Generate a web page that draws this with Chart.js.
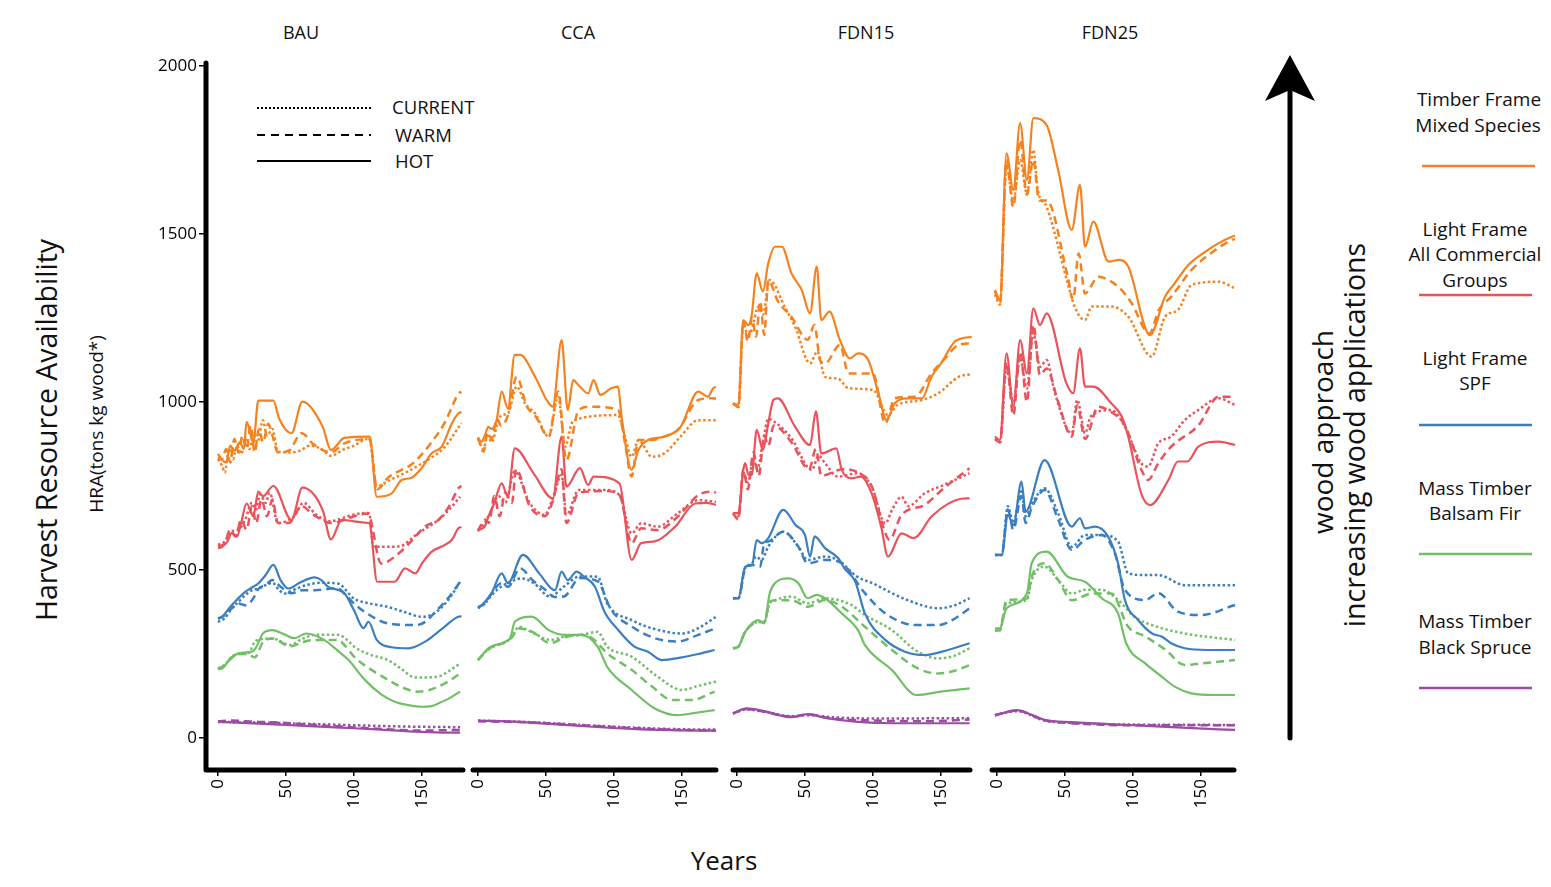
<!DOCTYPE html>
<html><head><meta charset="utf-8">
<script src="https://cdn.jsdelivr.net/npm/chart.js@4.4.1/dist/chart.umd.min.js"></script>
<style>
body{margin:0;width:1551px;height:887px;position:relative;background:#fff;overflow:hidden;font-family:'Open Sans',sans-serif;color:#111}
canvas{position:absolute;left:0;top:0}
.t{position:absolute;white-space:nowrap;line-height:1;transform:translate(-50%,-50%)}
.l{position:absolute;white-space:nowrap;line-height:1;transform:translate(0,-50%)}
.v{position:absolute;white-space:nowrap;line-height:1;transform:translate(-50%,-50%) rotate(-90deg)}
</style></head>
<body>
<svg width="1551" height="887" style="position:absolute;left:0;top:0">
  <line x1="257" y1="108" x2="371" y2="108" stroke="#000" stroke-width="2.2" stroke-dasharray="2,2"/>
  <line x1="257" y1="135" x2="371" y2="135" stroke="#000" stroke-width="2.2" stroke-dasharray="8,6"/>
  <line x1="257" y1="161" x2="371" y2="161" stroke="#000" stroke-width="2.2"/>
  <line x1="1290" y1="738" x2="1290" y2="92" stroke="#000" stroke-width="5" stroke-linecap="round"/>
  <path d="M1290,55 L1315,101 L1290,90 L1265,101 Z" fill="#000"/>
  <line x1="1422" y1="166" x2="1535" y2="166" stroke="#F5821F" stroke-width="2.5"/>
  <line x1="1419" y1="295" x2="1532" y2="295" stroke="#E9535B" stroke-width="2.5"/>
  <line x1="1419" y1="425" x2="1532" y2="425" stroke="#3B7FC0" stroke-width="2.5"/>
  <line x1="1419" y1="554" x2="1532" y2="554" stroke="#72BF68" stroke-width="2.5"/>
  <line x1="1419" y1="688" x2="1532" y2="688" stroke="#9A4DA3" stroke-width="2.5"/>
</svg>
<div class="t" style="left:301px;top:32px;font-size:18px">BAU</div>
<div class="t" style="left:578px;top:32px;font-size:18px">CCA</div>
<div class="t" style="left:866px;top:32px;font-size:18px">FDN15</div>
<div class="t" style="left:1110px;top:32px;font-size:18px">FDN25</div>
<div class="l" style="left:392px;top:107px;font-size:18.5px">CURRENT</div>
<div class="l" style="left:395px;top:135px;font-size:18.5px">WARM</div>
<div class="l" style="left:395px;top:161px;font-size:18.5px">HOT</div>
<div class="v" style="left:46px;top:430px;font-size:28.5px">Harvest Resource Availability</div>
<div class="v" style="left:96px;top:424px;font-size:19px">HRA(tons kg wood*)</div>
<div class="t" style="left:724px;top:860px;font-size:26px">Years</div>
<div class="v" style="left:1322px;top:432px;font-size:28px">wood approach</div>
<div class="v" style="left:1354px;top:435px;font-size:28.5px">increasing wood applications</div>
<div class="t" style="left:1479px;top:99px;font-size:19px">Timber Frame</div>
<div class="t" style="left:1478px;top:125px;font-size:19px">Mixed Species</div>
<div class="t" style="left:1475px;top:229px;font-size:19px">Light Frame</div>
<div class="t" style="left:1475px;top:254px;font-size:19px">All Commercial</div>
<div class="t" style="left:1475px;top:280px;font-size:19px">Groups</div>
<div class="t" style="left:1475px;top:358px;font-size:19px">Light Frame</div>
<div class="t" style="left:1475px;top:383px;font-size:19px">SPF</div>
<div class="t" style="left:1475px;top:488px;font-size:19px">Mass Timber</div>
<div class="t" style="left:1475px;top:513px;font-size:19px">Balsam Fir</div>
<div class="t" style="left:1475px;top:621px;font-size:19px">Mass Timber</div>
<div class="t" style="left:1475px;top:647px;font-size:19px">Black Spruce</div>
<canvas id="c1" width="1551" height="887"></canvas>
<canvas id="c2" width="1551" height="887"></canvas>
<canvas id="c3" width="1551" height="887"></canvas>
<canvas id="c4" width="1551" height="887"></canvas>
<script>
// ---- tick labels ----
const xTicks = [0, 50, 100, 150];
const yTicks = [0, 500, 1000, 1500, 2000];
const panelNames = ['BAU', 'CCA', 'FDN15', 'FDN25'];
const speciesNames = ['Timber Frame Mixed Species', 'Light Frame All Commercial Groups', 'Light Frame SPF', 'Mass Timber Balsam Fir', 'Mass Timber Black Spruce'];
const scenarioNames = ['CURRENT', 'WARM', 'HOT'];

// ---- BAU: [year, HRA] ----
const bau_tf_cur = [[0,830],[3,810],[5,790],[8,860],[11,830],[14,870],[17,845],[20,890],[23,860],[26,900],[29,880],[33,946],[36,900],[40,920],[44,852],[54,850],[60,855],[68,870],[76,860],[83,840],[92,858],[100,870],[110,890],[111.5,888],[116.7,748],[125,765],[137,788],[147,810],[157,835],[166,863],[179,937]];
const bau_tf_warm = [[0,845],[3,830],[6,860],[9,820],[12,890],[15,850],[18,900],[21,860],[24,930],[27,850],[30,920],[33,880],[37,935],[40,900],[44,850],[52,855],[61.5,907],[70,875],[83,850],[93,877],[111,890],[112,885],[117,740],[125,775],[135,798],[142,813],[150,845],[157,880],[166.5,937],[172,985],[176.7,1025],[179,1030]];
const bau_tf_hot = [[0,835],[3,827],[6,820],[9,870],[12,855],[16,880],[19,860],[21,941],[26,878],[29.6,1004],[40.7,1004],[45,950],[54,907],[62,1001],[77,926],[83,857],[93,893],[110.5,897],[111.5,897],[116.7,718],[127.7,728],[135,768],[142,774],[150,805],[157,847],[164.5,867],[172,937],[176.7,966],[179,970]];
const bau_lf_cur = [[0,575],[5,585],[10,615],[15,620],[20,650],[25,700],[28,680],[31,725],[35,700],[38,730],[44,640],[50,645],[56,660],[63,700],[72,665],[83,645],[92,655],[100,665],[110,670],[111.5,665],[114,569],[133,570],[147,609],[162,649],[170,680],[178,718]];
const bau_lf_warm = [[0,570],[5,580],[9,620],[13,600],[17,650],[21,620],[25,690],[28,640],[32,710],[36,660],[40,710],[44,640],[52,640],[61.5,690],[70,665],[83,640],[92,648],[100,660],[110,668],[111.5,660],[120,519],[133,550],[142,585],[152,629],[162,649],[170,690],[176.7,743],[179,750]];
const bau_lf_hot = [[0,565],[3,569],[7,585],[10,610],[14,600],[17,640],[21,698],[26,660],[29.6,733],[33,720],[40.7,750],[54,649],[62,745],[77,678],[83,591],[91,649],[100,645],[110.5,640],[111.5,638],[117,465],[130,465],[137.5,505],[145,490],[150,520],[157,554],[166.5,574],[172,590],[176.7,624],[179,628]];
const bau_spf_cur = [[0,345],[5,357],[10,385],[15,405],[20,425],[25,440],[30,445],[35,455],[40,462],[45,440],[49,430],[55,440],[65,455],[76,462],[88,460],[100,415],[112,400],[125,390],[137,375],[150,361],[156,365],[162,380],[170,415],[178,465]];
const bau_spf_warm = [[0,355],[5,365],[10,385],[15,400],[20,395],[25,410],[30,445],[35,455],[40,470],[46,450],[54,431],[62,440],[71,440],[88,446],[94,425],[100,400],[108,375],[125,341],[145,336],[152,345],[162,385],[170,420],[178,465]];
const bau_spf_hot = [[0,355],[3,361],[10,395],[20,435],[25,448],[29.6,460],[35,485],[40.7,515],[46,470],[51.7,445],[60,462],[71,478],[76,470],[81,450],[93,430],[100,380],[107,327],[110.6,346],[116.7,292],[127.7,270],[140,267],[152,286],[166.5,331],[176.7,361],[179,362]];
const bau_mtbf_cur = [[0,207],[5,218],[10,242],[15,250],[22,252],[28,290],[40,296],[53,277],[62,295],[71,307],[88,307],[95,292],[100,272],[112,248],[125,232],[135,205],[145,180],[162,183],[170,200],[178,222]];
const bau_mtbf_warm = [[0,205],[5,218],[10,240],[15,250],[22,250],[27,240],[33,285],[40,296],[53,273],[62,285],[71,292],[88,292],[94,272],[100,242],[112,205],[125,173],[137,148],[147,138],[155,142],[162,153],[170,170],[178,192]];
const bau_mtbf_hot = [[0,205],[3,207],[8,230],[15,252],[25,257],[28,270],[33,311],[40,321],[48,310],[56,297],[65,311],[78,292],[88,260],[96,232],[108,173],[120,130],[130,108],[140,98],[150,93],[157,95],[162,103],[170,118],[178,138]];
const bau_mtbs_cur = [[0,48],[50,44],[100,38],[140,34],[178,32]];
const bau_mtbs_warm = [[0,50],[10,52],[20,50],[30,48],[40,47],[60,42],[90,34],[120,27],[150,22],[165,23],[178,24]];
const bau_mtbs_hot = [[0,48],[30,43],[60,37],[90,31],[120,25],[140,20],[160,17],[178,16]];

// ---- CCA ----
const cca_tf_cur = [[0,890],[4,860],[7,900],[10,880],[14,930],[17,960],[22,966],[28.5,1046],[34.5,996],[42,966],[52,897],[59,1016],[64,867],[69,937],[71,946],[103,961],[108,897],[113,837],[118,887],[128,837],[137,847],[149,897],[162,946],[175,946]];
const cca_tf_warm = [[0,895],[4,852],[7,910],[10,890],[14,950],[17,930],[22,960],[28.5,1075],[36,986],[42,960],[52,897],[59,1031],[65,827],[74,976],[83,986],[103,976],[108,880],[113,778],[118,887],[128,887],[137,897],[147,917],[162,1006],[172,1011],[175,1010]];
const cca_tf_hot = [[0,892],[2.7,882],[5,900],[7.6,926],[10,920],[13.7,946],[17.4,1031],[22,981],[27,1140],[31,1140],[42,1075],[50.5,1006],[55,986],[61.5,1184],[66,976],[70,1065],[74,1050],[81,1026],[85,1065],[90,1021],[98,1041],[103,1046],[105.6,957],[113,798],[118,857],[125,887],[137,897],[149,926],[162,1031],[169,1016],[173,1041],[175,1045]];
const cca_lf_cur = [[0,620],[5,640],[10,680],[15,720],[20,700],[27,793],[38,700],[49,664],[55,713],[61.5,783],[65,664],[74,738],[93,738],[104,723],[113,609],[120,639],[132,629],[147,669],[162,708],[175,703]];
const cca_lf_warm = [[0,615],[5,650],[8,640],[12,720],[16,660],[20,730],[25,700],[28,800],[38,690],[49,660],[55,705],[61.5,800],[65,640],[74,730],[93,735],[104,723],[113,580],[120,624],[132,619],[147,659],[162,723],[173,733],[175,730]];
const cca_lf_hot = [[0,619],[5,630],[7.6,658],[12,700],[17.4,758],[22,718],[27,862],[41,787],[55,713],[61.5,897],[65,748],[75,803],[81,753],[85,778],[104,758],[113,530],[120,580],[130,585],[145,629],[159.6,698],[168,700],[175,694]];
const cca_spf_cur = [[0,386],[5,400],[10,425],[17,450],[22,461],[32,475],[41,461],[53,421],[63,450],[75,481],[88,480],[95,401],[113,351],[132,322],[150,311],[162,327],[175,361]];
const cca_spf_warm = [[0,390],[5,400],[10,430],[17,460],[22,450],[31,505],[40,470],[50,440],[56,420],[63,421],[75,476],[88,466],[98,381],[113,332],[130,297],[147,287],[162,307],[175,327]];
const cca_spf_hot = [[0,386],[5,405],[10,431],[17.4,490],[22,461],[33,545],[45,490],[56.6,440],[61.5,495],[66,470],[72.5,495],[78,480],[86,450],[93,376],[103,322],[115,272],[125,257],[135,232],[150,240],[162,250],[174,262]];
const cca_mtbf_cur = [[0,232],[8,265],[20,285],[25,300],[30,331],[39,316],[53,292],[64,302],[76,307],[88,316],[95,272],[113,242],[132,183],[150,143],[162,155],[175,168]];
const cca_mtbf_warm = [[0,232],[8,265],[20,285],[25,300],[30,326],[40,316],[53,282],[64,300],[76,307],[84,297],[95,252],[113,203],[128,153],[143,113],[157,113],[174,138]];
const cca_mtbf_hot = [[0,232],[7.6,267],[20,287],[24,300],[27,346],[39.5,361],[52,321],[64,307],[76,307],[88,272],[95,212],[113,143],[130,88],[147,68],[160,75],[174,83]];
const cca_mtbs_cur = [[0,52],[40,47],[80,38],[120,30],[150,26],[175,25]];
const cca_mtbs_warm = [[0,50],[40,46],[80,37],[120,28],[150,24],[175,22]];
const cca_mtbs_hot = [[0,52],[30,48],[60,40],[90,32],[120,26],[150,23],[175,22]];

// ---- FDN15 ----
const fdn15_tf_cur = [[-3,996],[1,985],[4.6,1230],[8,1200],[10.8,1214],[15.7,1284],[19,1260],[24,1363],[35,1284],[42.6,1225],[53.7,1115],[59,1150],[64.7,1075],[74,1070],[82,1041],[100,1036],[111,961],[118,991],[136,1006],[148,1026],[163,1075],[172.6,1083]];
const fdn15_tf_warm = [[-3,996],[1,985],[4.6,1240],[8,1180],[11,1250],[14,1194],[17,1300],[20,1200],[23,1363],[30,1300],[40,1254],[52,1185],[57,1229],[61,1125],[64.7,1115],[75.7,1170],[82,1085],[100,1085],[109,936],[116,1011],[131,1016],[143,1085],[152,1125],[163,1170],[172.6,1175]];
const fdn15_tf_hot = [[-3,996],[1,991],[4.6,1244],[8.3,1229],[10.8,1259],[14.5,1383],[19,1329],[23,1413],[28,1462],[33,1462],[40,1383],[47.6,1333],[53.7,1264],[58.6,1403],[62,1244],[68,1269],[75.7,1184],[83,1130],[89,1145],[96.5,1125],[104,1026],[110,946],[116,996],[126,1011],[136,1011],[143,1075],[150,1115],[160,1179],[165,1189],[172.6,1194]];
const fdn15_lf_cur = [[-3,669],[1,660],[4.6,790],[8,760],[12,830],[15,800],[19,880],[23,950],[28,940],[40,892],[55,798],[60,840],[64.7,818],[74,778],[89,788],[99,748],[109,639],[114,679],[121,718],[126,690],[138,728],[152,753],[171,788]];
const fdn15_lf_warm = [[-3,669],[1,650],[4.6,800],[8,740],[12,850],[16,780],[20,900],[23,870],[27,930],[40,880],[53,800],[58,860],[62,780],[70,790],[77,800],[89,790],[99,750],[109,610],[112,590],[121,664],[138,694],[152,743],[171,803]];
const fdn15_lf_hot = [[-3,669],[1,669],[4.6,798],[6,818],[8.3,784],[10.8,783],[14.5,917],[19,857],[23,937],[26.7,1006],[30,1011],[42.6,927],[53.7,872],[58,972],[62,847],[73,862],[77,798],[84,773],[91,778],[99,728],[106,629],[111,540],[121,609],[130,595],[143,659],[156,699],[165,712],[171,713]];
const fdn15_spf_cur = [[-3,416],[1,416],[6,505],[11,520],[14,540],[18,530],[23,570],[34,614],[45,570],[52,530],[64.7,540],[74,530],[88,481],[100,460],[114,431],[125,411],[148,386],[160,395],[171,416]];
const fdn15_spf_warm = [[-3,416],[1,416],[6,505],[11,515],[17,510],[20,580],[23,585],[34,614],[45,570],[52,520],[64.7,530],[77,520],[94,431],[109,371],[131,336],[148,336],[160,355],[171,386]];
const fdn15_spf_hot = [[-3,416],[1,416],[6,510],[11,515],[14.5,589],[18,580],[23,595],[34,679],[43,634],[50,604],[53.7,540],[57,600],[64.7,565],[74.5,535],[79,505],[87,465],[94,371],[109,292],[123.5,257],[138,247],[155,262],[171,282]];
const fdn15_mtbf_cur = [[-3,267],[1,272],[6,316],[15.7,345],[20,345],[24,400],[28,410],[40,421],[52,401],[64.7,416],[84,396],[94,366],[114,321],[131,262],[148,237],[160,245],[171,267]];
const fdn15_mtbf_warm = [[-3,267],[1,272],[6,316],[15.7,345],[20,345],[24,405],[28,410],[40,410],[52,391],[64.7,411],[77,391],[94,331],[114,262],[133,207],[148,192],[160,200],[171,217]];
const fdn15_mtbf_hot = [[-3,267],[1,272],[6,316],[15.7,351],[20,341],[24,430],[28,461],[37.7,475],[45,461],[52,416],[58.6,426],[64.7,416],[77,371],[89,321],[94,277],[114,202],[132,128],[150,138],[171,148]];
const fdn15_mtbs_cur = [[-3,73],[7,85],[20,78],[40,65],[52,68],[70,62],[100,58],[171,59]];
const fdn15_mtbs_warm = [[-3,73],[7,86],[20,78],[40,63],[52,70],[70,58],[100,52],[140,50],[171,55]];
const fdn15_mtbs_hot = [[-3,73],[7,88],[20,80],[40,62],[52,71],[64.7,60],[89,48],[114,44],[171,44]];

// ---- FDN25 ----
const fdn25_tf_cur = [[-1.5,1320],[2.2,1290],[7,1700],[12,1600],[17,1720],[22,1620],[26.7,1750],[30,1631],[36.5,1581],[52,1353],[57,1284],[64.7,1244],[69.6,1284],[84,1284],[96.5,1254],[113.7,1135],[123.5,1254],[133,1274],[143,1348],[163,1358],[175,1338]];
const fdn25_tf_warm = [[-1.5,1330],[2.2,1295],[7,1720],[12,1580],[17,1780],[22,1617],[26.7,1720],[31,1600],[36.5,1600],[52,1373],[56,1304],[60,1442],[64.7,1323],[74.5,1373],[82,1363],[91.7,1333],[99,1294],[112,1204],[119,1274],[128,1313],[143,1393],[157,1442],[172.6,1482],[175,1485]];
const fdn25_tf_hot = [[-1.5,1333],[2.2,1304],[7,1740],[12,1631],[17,1830],[22,1661],[26.7,1845],[36.5,1824],[45,1690],[55,1512],[61,1646],[64.7,1462],[70.8,1537],[82,1418],[90,1423],[96.5,1403],[112.5,1199],[123.5,1313],[130.6,1353],[140.7,1408],[153,1447],[162.7,1472],[172.6,1492],[175,1495]];
const fdn25_lf_cur = [[-1.5,890],[2.2,880],[7,1100],[12,1000],[17,1130],[22,1040],[26.7,1205],[31.6,1105],[36.5,1125],[42.6,1026],[55,907],[59,1006],[64.7,907],[69,957],[84,976],[94,927],[106,818],[111,808],[118.6,877],[128,897],[138,946],[148,976],[163,1011],[175,991]];
const fdn25_lf_warm = [[-1.5,890],[2.2,880],[7,1120],[12,960],[17,1150],[22,1000],[26.7,1230],[31.6,1080],[36.5,1100],[45,1000],[55,897],[59,990],[64.7,890],[74.5,986],[84,970],[94,930],[106,800],[111,768],[118.6,818],[128,867],[148,930],[163,1016],[175,1016]];
const fdn25_lf_hot = [[-1.5,897],[2.2,887],[7,1145],[12,986],[17,1184],[22,1085],[26.7,1279],[31.6,1229],[36.5,1264],[51,1056],[56,1026],[61,1160],[64.7,1046],[71,1046],[84,996],[91.7,957],[96.5,897],[106,728],[112.5,693],[126,768],[133,823],[140,823],[148,867],[163,882],[175,872]];
const fdn25_spf_cur = [[-1.5,545],[3.5,545],[8,690],[12,640],[18,740],[21,660],[26,700],[35,743],[45,669],[55,569],[64.7,604],[77,604],[89,585],[96.5,490],[109,485],[118.6,485],[138,455],[175,455]];
const fdn25_spf_warm = [[-1.5,545],[3.5,545],[8,680],[12,620],[18,720],[21,640],[26,690],[35,738],[45,650],[55,560],[64.7,590],[77,604],[86.6,550],[94,441],[109,411],[118.6,431],[133,376],[150,366],[175,396]];
const fdn25_spf_hot = [[-1.5,545],[3.5,545],[8,664],[12,634],[18,763],[21,674],[35,827],[55,629],[61,654],[64.7,624],[72,629],[81.6,600],[89,520],[94,411],[103.6,352],[114,311],[121,302],[128,282],[138,267],[155,262],[175,262]];
const fdn25_mtbf_cur = [[-1.5,320],[2,320],[7,400],[22,410],[25.5,470],[35,510],[45,470],[55,430],[64.7,441],[77,441],[89,411],[101,361],[114,336],[138,311],[175,292]];
const fdn25_mtbf_warm = [[-1.5,320],[2,320],[7,410],[22,415],[25.5,480],[35,520],[45,470],[55,410],[70,430],[84,430],[96.5,331],[109,302],[124,262],[138,217],[150,222],[175,232]];
const fdn25_mtbf_hot = [[-1.5,326],[2,326],[7,386],[22,430],[25.5,520],[36.5,555],[52,480],[64.7,465],[77,416],[89,371],[95,282],[109,222],[121,183],[130.6,153],[143,133],[160,128],[175,128]];
const fdn25_mtbs_cur = [[-1.5,68],[14.5,80],[35,52],[55,45],[100,40],[175,39]];
const fdn25_mtbs_warm = [[-1.5,68],[14.5,82],[35,53],[55,44],[100,38],[175,38]];
const fdn25_mtbs_hot = [[-1.5,68],[5,75],[14.5,83],[25,70],[35,54],[55,47],[100,38],[140,30],[175,24]];

// ---- styles ----
const speciesColors = ['#F5821F', '#E9535B', '#3B7FC0', '#72BF68', '#9A4DA3'];
const scenarioDash = [[2.5, 2.5], [8, 5], []];

const panelSeries = [
  [[bau_tf_cur, bau_tf_warm, bau_tf_hot], [bau_lf_cur, bau_lf_warm, bau_lf_hot], [bau_spf_cur, bau_spf_warm, bau_spf_hot], [bau_mtbf_cur, bau_mtbf_warm, bau_mtbf_hot], [bau_mtbs_cur, bau_mtbs_warm, bau_mtbs_hot]],
  [[cca_tf_cur, cca_tf_warm, cca_tf_hot], [cca_lf_cur, cca_lf_warm, cca_lf_hot], [cca_spf_cur, cca_spf_warm, cca_spf_hot], [cca_mtbf_cur, cca_mtbf_warm, cca_mtbf_hot], [cca_mtbs_cur, cca_mtbs_warm, cca_mtbs_hot]],
  [[fdn15_tf_cur, fdn15_tf_warm, fdn15_tf_hot], [fdn15_lf_cur, fdn15_lf_warm, fdn15_lf_hot], [fdn15_spf_cur, fdn15_spf_warm, fdn15_spf_hot], [fdn15_mtbf_cur, fdn15_mtbf_warm, fdn15_mtbf_hot], [fdn15_mtbs_cur, fdn15_mtbs_warm, fdn15_mtbs_hot]],
  [[fdn25_tf_cur, fdn25_tf_warm, fdn25_tf_hot], [fdn25_lf_cur, fdn25_lf_warm, fdn25_lf_hot], [fdn25_spf_cur, fdn25_spf_warm, fdn25_spf_hot], [fdn25_mtbf_cur, fdn25_mtbf_warm, fdn25_mtbf_hot], [fdn25_mtbs_cur, fdn25_mtbs_warm, fdn25_mtbs_hot]]
];

// layout of each panel (canvas padding + x range)
const panelLayout = [
  { canvas: 'c1', xmin: -9.56, xmax: 181.6, padLeft: 155, padRight: 1086, yAxis: true },
  { canvas: 'c2', xmin: -4.4, xmax: 176.5, padLeft: 472, padRight: 833, yAxis: false },
  { canvas: 'c3', xmin: -3.7, xmax: 172.8, padLeft: 732, padRight: 579, yAxis: false },
  { canvas: 'c4', xmin: -4.4, xmax: 175.7, padLeft: 991, padRight: 315, yAxis: false }
];

Chart.defaults.font.family = "'Open Sans', sans-serif";
Chart.defaults.color = '#000';

const axisLines = {
  id: 'axisLines',
  afterDraw(chart, args, opts) {
    const { ctx, chartArea: { left, right, top, bottom } } = chart;
    ctx.save();
    ctx.strokeStyle = '#000';
    ctx.lineWidth = 5;
    ctx.lineCap = 'round';
    ctx.beginPath();
    ctx.moveTo(left + 1, bottom);
    ctx.lineTo(right - 2, bottom);
    if (opts.yAxis) { ctx.moveTo(left + 1, bottom); ctx.lineTo(left + 1, top + 1); }
    ctx.stroke();
    ctx.restore();
  }
};

panelLayout.forEach((p, pi) => {
  const datasets = [];
  panelSeries[pi].forEach((sp, si) => {
    sp.forEach((arr, ci) => {
      datasets.push({
        label: panelNames[pi] + ' ' + speciesNames[si] + ' ' + scenarioNames[ci],
        data: arr.map(([x, y]) => ({ x, y })),
        borderColor: speciesColors[si],
        borderWidth: ci === 2 ? 2.2 : 2.5,
        borderDash: scenarioDash[ci],
        pointRadius: 0,
        cubicInterpolationMode: 'monotone',
        fill: false
      });
    });
  });
  new Chart(document.getElementById(p.canvas), {
    type: 'line',
    data: { datasets },
    options: {
      responsive: false,
      animation: false,
      devicePixelRatio: 1,
      events: [],
      layout: { autoPadding: false, padding: { top: 62, bottom: 57, left: p.padLeft, right: p.padRight } },
      plugins: { legend: { display: false }, tooltip: { enabled: false }, title: { display: false }, axisLines: { yAxis: p.yAxis } },
      scales: {
        x: {
          type: 'linear', min: p.xmin, max: p.xmax,
          afterBuildTicks: s => { s.ticks = xTicks.map(v => ({ value: v })); },
          afterFit: s => { s.height = 60; s.paddingLeft = 0; s.paddingRight = 0; },
          ticks: { minRotation: 90, maxRotation: 90, autoSkip: false, font: { size: 17 }, color: '#000', padding: 3, callback: v => String(v) },
          grid: { drawOnChartArea: false, drawTicks: true, tickLength: 6, color: '#000', lineWidth: 1.5 },
          border: { display: false }
        },
        y: {
          type: 'linear', min: -95.2, max: 2011.9, display: p.yAxis,
          afterBuildTicks: s => { s.ticks = yTicks.map(v => ({ value: v })); },
          afterFit: s => { if (p.yAxis) s.width = 50; s.paddingTop = 0; s.paddingBottom = 0; },
          ticks: { font: { size: 17 }, color: '#000', padding: 2, callback: v => String(v) },
          grid: { drawOnChartArea: false, drawTicks: true, tickLength: 6, color: '#000', lineWidth: 1.5 },
          border: { display: false }
        }
      }
    },
    plugins: [axisLines]
  });
});
</script>
</body></html>
